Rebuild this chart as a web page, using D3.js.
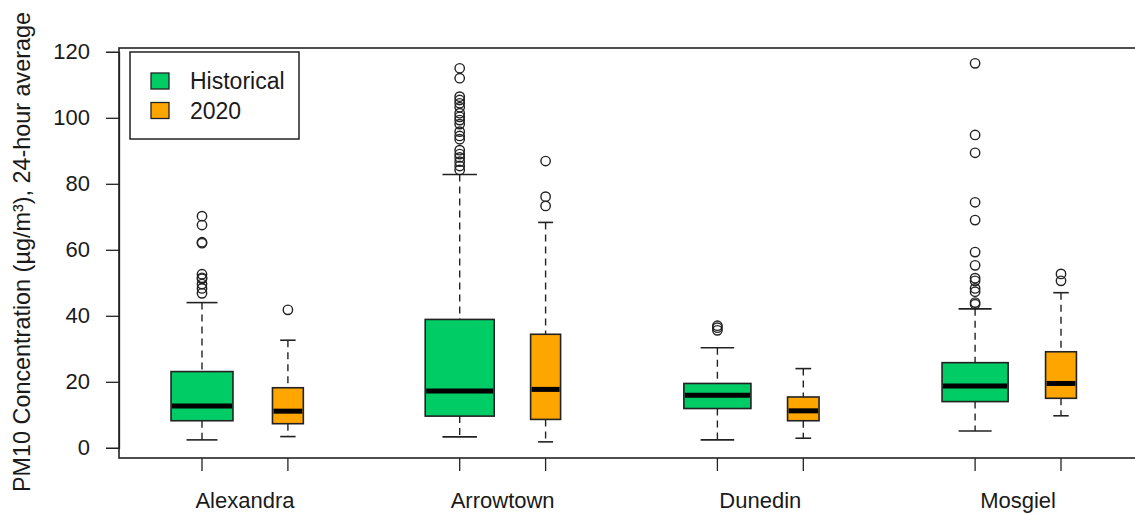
<!DOCTYPE html>
<html>
<head>
<meta charset="utf-8">
<script src="https://cdn.jsdelivr.net/npm/d3@7"></script>
<style>
    body { margin: 0; background: #fff; }
    svg { display: block; font-family: "Liberation Sans", Arial, sans-serif; }
    text { fill: #1a1a1a; }
</style>
</head>
<body>
<svg id="chart"></svg>
<script>
// Sites and periods
const sites = ['Alexandra', 'Arrowtown', 'Dunedin', 'Mosgiel'];
const periods = ['Historical', '2020'];

// Box stats per site: [lower whisker, Q1, median, Q3, upper whisker]
const historicalStats = [
    [2.4, 8.2, 12.7, 23.1, 44.0],
    [3.3, 9.6, 17.2, 38.9, 82.8],
    [2.4, 11.9, 15.9, 19.5, 30.3],
    [5.1, 14.0, 18.7, 25.8, 42.1]
];
const stats2020 = [
    [3.4, 7.3, 11.1, 18.2, 32.6],
    [1.8, 8.6, 17.7, 34.4, 68.3],
    [2.9, 8.2, 11.2, 15.4, 24.0],
    [9.7, 15.0, 19.5, 29.1, 47.0]
];

// Outliers per site
const historicalOutliers = [
    [70.2, 67.5, 62.3, 62.0, 52.6, 51.5, 51.2, 49.6, 48.3, 46.8],
    [115, 112, 106.4, 105.4, 104.4, 103.2, 101.4, 100.3, 99.3, 98.1, 95.8, 94.5, 93.5, 90.2, 89, 88, 86.7, 85.4, 84.2],
    [37.0, 36.4, 35.6],
    [116.5, 94.8, 89.4, 74.4, 69.0, 59.3, 55.3, 51.4, 50.6, 48.3, 47.3, 44.0, 43.5]
];
const outliers2020 = [
    [41.8],
    [86.9, 76.1, 73.3],
    [],
    [52.7, 50.6]
];

// Sample sizes (box width ~ sqrt(n))
const historicalN = [1450, 1800, 1700, 1650];
const n2020 = [360, 340, 375, 360];

const yTicks = [0, 20, 40, 60, 80, 100, 120];

const CONFIG = {
    width: 1135,
    height: 514,
    frameLeft: 119,
    frameTop: 48,
    frameBottom: 458,
    maxBoxWidth: 69,
    colors: { 'Historical': '#00cc66', '2020': '#ffa500' },
    ink: '#222'
};

const svg = d3.select('#chart')
    .attr('width', CONFIG.width)
    .attr('height', CONFIG.height);

// Build box records
const boxes = [];
sites.forEach((site, i) => {
    [[historicalStats, historicalOutliers, historicalN], [stats2020, outliers2020, n2020]]
        .forEach(([st, out, n], p) => {
            const s = st[i];
            boxes.push({
                site, period: periods[p], pos: i * 3 + p + 1,
                lo: s[0], q1: s[1], med: s[2], q3: s[3], hi: s[4],
                outliers: out[i], n: n[i]
            });
        });
});

const x = d3.scaleLinear().domain([1, 11]).range([202, 1061]);
const y = d3.scaleLinear().domain([0, 120]).range([447.8, 51.8]);
const w = d3.scaleSqrt().domain([0, d3.max(boxes, d => d.n)]).range([0, CONFIG.maxBoxWidth]);

// Y axis
const yAxis = svg.append('g')
    .attr('transform', `translate(${CONFIG.frameLeft},0)`)
    .call(d3.axisLeft(y).tickValues(yTicks).tickSize(13).tickPadding(16));
yAxis.select('.domain').attr('stroke', CONFIG.ink).attr('stroke-width', 1.3);
yAxis.selectAll('.tick line').attr('stroke', CONFIG.ink).attr('stroke-width', 1.3);
yAxis.selectAll('.tick text')
    .style('font-size', '22px')
    .style('font-family', '"Liberation Sans", Arial, sans-serif')
    .attr('fill', '#1a1a1a');

// X ticks at box positions
svg.append('g')
    .selectAll('line')
    .data(boxes)
    .enter()
    .append('line')
    .attr('x1', d => x(d.pos)).attr('x2', d => x(d.pos))
    .attr('y1', CONFIG.frameBottom).attr('y2', CONFIG.frameBottom + 13)
    .attr('stroke', CONFIG.ink).attr('stroke-width', 1.3);

// Site labels
svg.append('g')
    .selectAll('text')
    .data(sites)
    .enter()
    .append('text')
    .attr('x', (d, i) => x(i * 3 + 1.5))
    .attr('y', 508)
    .attr('text-anchor', 'middle')
    .style('font-size', '22px')
    .text(d => d);

// Y title
svg.append('text')
    .attr('transform', `translate(30,${(CONFIG.frameTop + CONFIG.frameBottom) / 2 - 1}) rotate(-90)`)
    .attr('text-anchor', 'middle')
    .style('font-size', '23.4px')
    .text('PM10 Concentration (µg/m³), 24-hour average');

// Boxes
const g = svg.append('g')
    .selectAll('g')
    .data(boxes)
    .enter()
    .append('g');

// Dashed whiskers
g.append('line')
    .attr('x1', d => x(d.pos)).attr('x2', d => x(d.pos))
    .attr('y1', d => y(d.hi)).attr('y2', d => y(d.q3))
    .attr('stroke', CONFIG.ink).attr('stroke-width', 1.4)
    .attr('stroke-dasharray', '7,5');
g.append('line')
    .attr('x1', d => x(d.pos)).attr('x2', d => x(d.pos))
    .attr('y1', d => y(d.q1)).attr('y2', d => y(d.lo))
    .attr('stroke', CONFIG.ink).attr('stroke-width', 1.4)
    .attr('stroke-dasharray', '7,5');

// Staples
['hi', 'lo'].forEach(k => {
    g.append('line')
        .attr('x1', d => x(d.pos) - w(d.n) / 4).attr('x2', d => x(d.pos) + w(d.n) / 4)
        .attr('y1', d => y(d[k])).attr('y2', d => y(d[k]))
        .attr('stroke', CONFIG.ink).attr('stroke-width', 1.6);
});

// Box body
g.append('rect')
    .attr('x', d => x(d.pos) - w(d.n) / 2)
    .attr('width', d => w(d.n))
    .attr('y', d => y(d.q3))
    .attr('height', d => y(d.q1) - y(d.q3))
    .attr('fill', d => CONFIG.colors[d.period])
    .attr('stroke', CONFIG.ink).attr('stroke-width', 1.6);

// Median
g.append('line')
    .attr('x1', d => x(d.pos) - w(d.n) / 2 + 1).attr('x2', d => x(d.pos) + w(d.n) / 2 - 1)
    .attr('y1', d => y(d.med)).attr('y2', d => y(d.med))
    .attr('stroke', '#000').attr('stroke-width', 5);

// Outliers
g.selectAll('circle')
    .data(d => d.outliers.map(v => ({ v, pos: d.pos })))
    .enter()
    .append('circle')
    .attr('cx', d => x(d.pos))
    .attr('cy', d => y(d.v))
    .attr('r', 4.7)
    .attr('fill', 'none')
    .attr('stroke', CONFIG.ink).attr('stroke-width', 1.4);

// Frame (right edge runs off the canvas)
svg.append('rect')
    .attr('x', CONFIG.frameLeft)
    .attr('y', CONFIG.frameTop)
    .attr('width', CONFIG.width + 20 - CONFIG.frameLeft)
    .attr('height', CONFIG.frameBottom - CONFIG.frameTop)
    .attr('fill', 'none')
    .attr('stroke', CONFIG.ink).attr('stroke-width', 1.6);

// Legend
const legend = svg.append('g');
legend.append('rect')
    .attr('x', 130).attr('y', 52)
    .attr('width', 169).attr('height', 87)
    .attr('fill', '#fff')
    .attr('stroke', CONFIG.ink).attr('stroke-width', 1.5);
periods.forEach((p, i) => {
    const cy = 81 + i * 29.5;
    legend.append('rect')
        .attr('x', 151).attr('y', cy - 8)
        .attr('width', 18).attr('height', 16)
        .attr('fill', CONFIG.colors[p])
        .attr('stroke', CONFIG.ink).attr('stroke-width', 1.3);
    legend.append('text')
        .attr('x', 190).attr('y', cy)
        .attr('dy', '0.36em')
        .style('font-size', '23px')
        .text(p);
});
</script>
</body>
</html>
